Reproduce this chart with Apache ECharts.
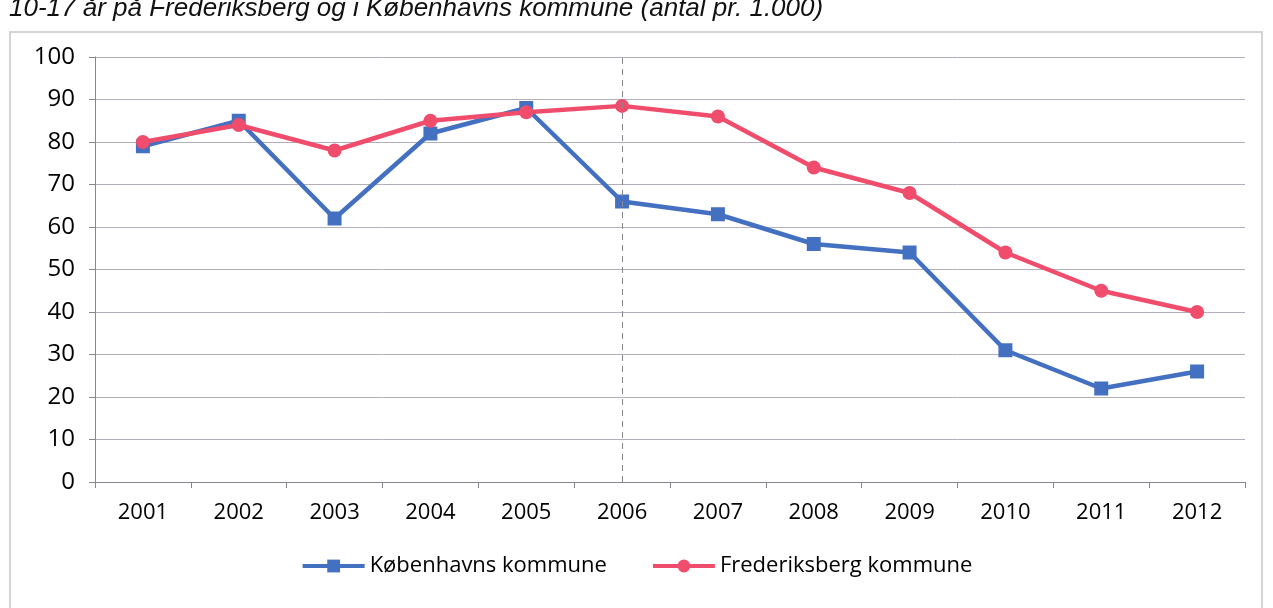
<!DOCTYPE html>
<html>
<head>
<meta charset="utf-8">
<script src="https://cdn.jsdelivr.net/npm/echarts@6/dist/echarts.min.js"></script>
<style>
html, body { margin: 0; padding: 0; background: #fff; }
#chart { width: 1273px; height: 608px; }
</style>
</head>
<body>
<div id="chart"></div>
<script>
// årstal på x-aksen
var years = ['2001','2002','2003','2004','2005','2006','2007','2008','2009','2010','2011','2012'];
// antal pr. 1.000
var kobenhavn = [79, 85, 62, 82, 88, 66, 63, 56, 54, 31, 22, 26];
var frederiksberg = [80, 84, 78, 85, 87, 88.5, 86, 74, 68, 54, 45, 40];
var yTicks = [0, 10, 20, 30, 40, 50, 60, 70, 80, 90, 100];

var blue = '#4470c2';
var red = '#f04d6c';
var font = '"Open Sans", "Noto Sans", sans-serif';

var chart = echarts.init(document.getElementById('chart'));
var option = {
  backgroundColor: '#fff',
  animation: false,
  title: {
    text: '10-17 år på Frederiksberg og i Københavns kommune (antal pr. 1.000)',
    left: 4,
    top: -9,
    textStyle: {
      fontFamily: 'Liberation Sans, Arial, sans-serif',
      fontStyle: 'italic',
      fontWeight: 'normal',
      fontSize: 26,
      color: '#111'
    }
  },
  graphic: [{
    type: 'rect',
    shape: { x: 10, y: 32, width: 1252, height: 600 },
    style: { fill: 'none', stroke: '#c8c8cc', lineWidth: 1.5 },
    silent: true
  }],
  legend: {
    bottom: 26,
    left: 'center',
    itemGap: 44,
    itemWidth: 62,
    itemHeight: 16,
    lineStyle: { width: 4 },
    textStyle: { fontFamily: font, fontSize: 22, color: '#000' },
    data: ['Københavns kommune', 'Frederiksberg kommune']
  },
  grid: { left: 95, right: 28, top: 57, bottom: 126 },
  xAxis: {
    type: 'category',
    data: years,
    boundaryGap: true,
    axisLine: { lineStyle: { color: '#8a8490', width: 1 } },
    axisTick: { show: true, length: 6, lineStyle: { color: '#8a8490' } },
    axisLabel: { fontFamily: font, fontSize: 22, color: '#000', margin: 20 },
    splitLine: { show: false }
  },
  yAxis: {
    type: 'value',
    min: yTicks[0],
    max: yTicks[yTicks.length - 1],
    interval: 10,
    axisLine: { show: true, lineStyle: { color: '#8a8490', width: 1 } },
    axisTick: { show: true, length: 6, lineStyle: { color: '#8a8490' } },
    axisLabel: { fontFamily: font, fontSize: 24, color: '#000', margin: 20 },
    splitLine: { lineStyle: { color: '#b4aebb', width: 1 } }
  },
  series: [
    {
      name: 'Københavns kommune',
      type: 'line',
      data: kobenhavn,
      symbol: 'rect',
      symbolSize: 14,
      color: blue,
      lineStyle: { width: 4.5, color: blue },
      itemStyle: { color: blue },
      markLine: {
        silent: true,
        symbol: 'none',
        label: { show: false },
        lineStyle: { type: [6, 5], color: '#888', width: 1 },
        data: [{ xAxis: '2006' }]
      }
    },
    {
      name: 'Frederiksberg kommune',
      type: 'line',
      data: frederiksberg,
      symbol: 'circle',
      symbolSize: 14,
      color: red,
      lineStyle: { width: 4.5, color: red },
      itemStyle: { color: red }
    }
  ]
};
chart.setOption(option);
</script>
</body>
</html>
